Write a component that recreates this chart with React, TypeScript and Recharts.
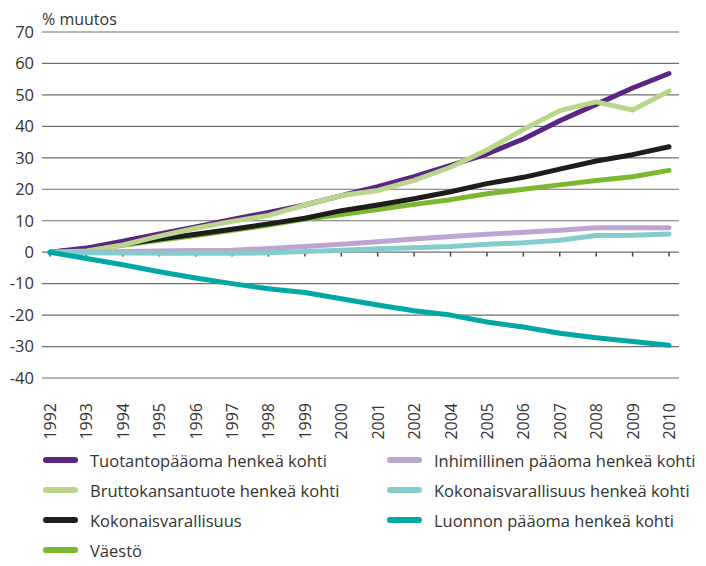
import { LineChart, Line, XAxis, YAxis, CartesianGrid, ReferenceLine } from 'recharts';

// years on the x axis (2003 is not in the source data)
const years = ['1992', '1993', '1994', '1995', '1996', '1997', '1998', '1999', '2000', '2001', '2002', '2004', '2005', '2006', '2007', '2008', '2009', '2010'];
const yTicks = [-40, -30, -20, -10, 0, 10, 20, 30, 40, 50, 60, 70];

// % change from 1992
const tuotantopaaoma = [0, 1.3, 3.5, 5.8, 8, 10.4, 12.6, 15, 18, 20.8, 24, 27.6, 31.2, 36, 41.8, 47, 52.2, 56.8];
const bkt = [0, 0.4, 2.3, 5.1, 7.6, 9.8, 11.7, 15, 18, 19.6, 22.8, 27, 32.5, 39, 45, 47.8, 45.2, 51.2];
const kokonaisvarallisuus = [0, 1, 2.5, 4.2, 5.7, 7.3, 9, 10.8, 13.2, 15, 17, 19.2, 21.8, 23.8, 26.4, 29, 31, 33.5];
const vaesto = [0, 0.8, 2.2, 3.8, 5.3, 7, 8.6, 10.5, 12, 13.6, 15.2, 16.7, 18.6, 20, 21.4, 22.8, 24, 26];
const inhimillinen = [0, 0, 0.2, 0.4, 0.5, 0.6, 1.2, 1.8, 2.5, 3.3, 4.2, 5, 5.7, 6.3, 7, 7.8, 7.8, 7.8];
const kokonaisHenk = [0, -0.2, -0.3, -0.3, -0.3, -0.3, -0.2, 0.2, 0.6, 1.1, 1.4, 1.8, 2.5, 3, 3.8, 5.3, 5.4, 5.8];
const luonnon = [0, -2, -4, -6.2, -8.2, -10, -11.6, -12.8, -14.8, -16.8, -18.6, -20, -22.2, -23.8, -25.8, -27.2, -28.4, -29.6];

const series = [
  { key: 'vaesto', name: 'Väestö', color: '#7cb82f', values: vaesto },
  { key: 'kok', name: 'Kokonaisvarallisuus', color: '#1d1d1b', values: kokonaisvarallisuus },
  { key: 'tuot', name: 'Tuotantopääoma henkeä kohti', color: '#5c2483', values: tuotantopaaoma },
  { key: 'bkt', name: 'Bruttokansantuote henkeä kohti', color: '#b9d68b', values: bkt },
  { key: 'inh', name: 'Inhimillinen pääoma henkeä kohti', color: '#bca5d0', values: inhimillinen },
  { key: 'kokh', name: 'Kokonaisvarallisuus henkeä kohti', color: '#85cdcc', values: kokonaisHenk },
  { key: 'luon', name: 'Luonnon pääoma henkeä kohti', color: '#00a8a3', values: luonnon },
];

const legendLeft = ['tuot', 'bkt', 'kok', 'vaesto'];
const legendRight = ['inh', 'kokh', 'luon'];

const data = years.map((year, i) => {
  const row: any = { year };
  series.forEach((s) => {
    row[s.key] = s.values[i];
  });
  return row;
});

const font = '"Open Sans", sans-serif';

const YearTick = ({ x, y, payload }: any) => (
  <text
    x={x}
    y={y}
    transform={`rotate(-90 ${x} ${y})`}
    textAnchor="end"
    dominantBaseline="central"
    fontSize={16}
    fill="#333"
    fontFamily={font}
  >
    {payload.value}
  </text>
);

const LegendItem = ({ k }: { k: string }) => {
  const s = series.find((d) => d.key === k)!;
  return (
    <div style={{ display: 'flex', alignItems: 'center', height: 30, whiteSpace: 'nowrap' }}>
      <span style={{ width: 35, height: 6, borderRadius: 3, background: s.color, marginRight: 12, flexShrink: 0 }} />
      <span>{s.name}</span>
    </div>
  );
};

export default function App() {
  return (
    <div style={{ position: 'relative', width: 698, height: 558, fontFamily: font, color: '#333' }}>
      <div style={{ position: 'absolute', left: 34, top: 0, fontSize: 16 }}>% muutos</div>
      <LineChart width={690} height={440} data={data} margin={{ top: 24, right: 19, left: 0, bottom: 0 }}>
        <CartesianGrid vertical={false} stroke="#6f6f6f" strokeWidth={1.2} />
        <XAxis
          dataKey="year"
          interval={0}
          tickLine={false}
          axisLine={false}
          tickSize={6}
          tickMargin={19}
          height={70}
          padding={{ left: 8, right: 10 }}
          tick={<YearTick />}
        />
        <YAxis
          width={34}
          domain={[-40, 70]}
          ticks={yTicks}
          tickLine={false}
          axisLine={false}
          tick={{ fontSize: 16.5, fill: '#333', fontFamily: font }}
        />
        {years.map((yr) => (
          <ReferenceLine
            key={yr}
            segment={[{ x: yr, y: 0 }, { x: yr, y: -1.4 }]}
            stroke="#444"
            strokeWidth={1.5}
          />
        ))}
        {series.map((s) => (
          <Line
            key={s.key}
            dataKey={s.key}
            name={s.name}
            stroke={s.color}
            strokeWidth={5}
            strokeLinecap="round"
            strokeLinejoin="round"
            dot={false}
            isAnimationActive={false}
          />
        ))}
      </LineChart>
      <div style={{ position: 'absolute', top: 437, left: 35, fontSize: 16.5 }}>
        {legendLeft.map((k) => (
          <LegendItem key={k} k={k} />
        ))}
      </div>
      <div style={{ position: 'absolute', top: 437, left: 379, fontSize: 16.5 }}>
        {legendRight.map((k) => (
          <LegendItem key={k} k={k} />
        ))}
      </div>
    </div>
  );
}
